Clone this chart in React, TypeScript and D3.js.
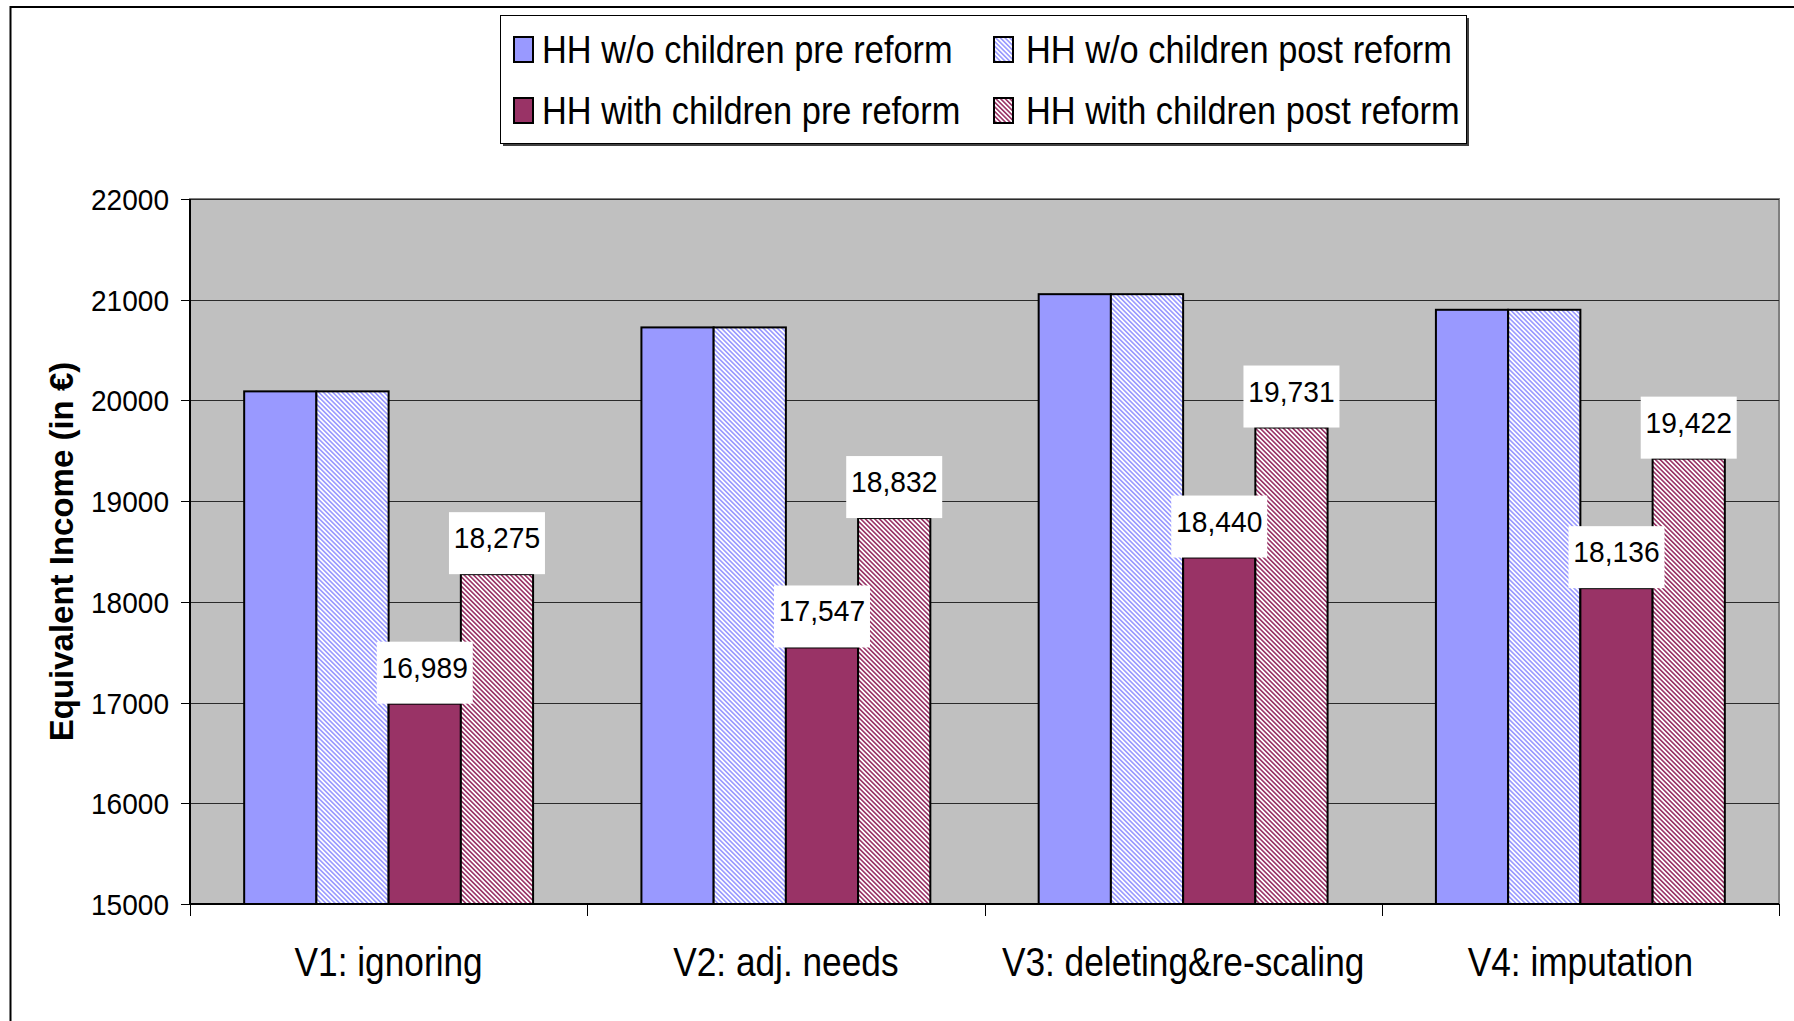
import React from "react";
import * as d3 from "d3";

const categories = ["V1: ignoring", "V2: adj. needs", "V3: deleting&re-scaling", "V4: imputation"];
const seriesNames = [
  "HH w/o children pre reform",
  "HH w/o children post reform",
  "HH with children pre reform",
  "HH with children post reform",
];
const woPre = [20090, 20725, 21055, 20900];
const woPost = [20090, 20725, 21055, 20900];
const withPre = [16989, 17547, 18440, 18136];
const withPost = [18275, 18832, 19731, 19422];
const yTicks = [15000, 16000, 17000, 18000, 19000, 20000, 21000, 22000];

const FONT = "Arial, 'Liberation Sans', sans-serif";
const BLUE = "#9999FF";
const PLUM = "#993366";

type SText = {
  x: number;
  y: number;
  size: number;
  sx: number;
  anchor?: "start" | "middle" | "end";
  bold?: boolean;
  children: React.ReactNode;
};
function SText({ x, y, size, sx, anchor = "start", bold = false, children }: SText) {
  return (
    <text
      transform={`translate(${x},${y}) scale(${sx},1)`}
      fontFamily={FONT}
      fontSize={size}
      fontWeight={bold ? "bold" : "normal"}
      textAnchor={anchor}
      fill="#000"
    >
      {children}
    </text>
  );
}

export default function App() {
  const W = 1794;
  const H = 1021;
  const plot = { l: 190, r: 1779, t: 199, b: 904 };

  const series = [
    { name: seriesNames[0], values: woPre, fill: BLUE, hatch: false, label: false },
    { name: seriesNames[1], values: woPost, fill: BLUE, hatch: true, label: false },
    { name: seriesNames[2], values: withPre, fill: PLUM, hatch: false, label: true },
    { name: seriesNames[3], values: withPost, fill: PLUM, hatch: true, label: true },
  ];

  const x0 = d3.scaleBand<string>().domain(categories).range([plot.l, plot.r]).paddingInner(0).paddingOuter(0);
  const x1 = d3
    .scaleBand<string>()
    .domain(seriesNames)
    .range([0, x0.bandwidth()])
    .paddingInner(0)
    .paddingOuter(0.75);
  const y = d3.scaleLinear().domain([15000, 22000]).range([plot.b, plot.t]);
  const fmt = d3.format(",");

  const fillFor = (s: (typeof series)[number]) =>
    s.hatch ? `url(#hatch-${s.fill === BLUE ? "blue" : "plum"})` : s.fill;

  const boundaries = [...categories.map((c) => x0(c) as number), plot.r];

  const legendCols = [514, 994];
  const legendTextX = [542, 1026];
  const legendRows = [63, 124];

  return (
    <svg
      width={W}
      height={H}
      viewBox={`0 0 ${W} ${H}`}
      style={{ position: "absolute", left: 0, top: 0, display: "block", background: "#fff" }}
    >
      <defs>
        <pattern id="hatch-blue" patternUnits="userSpaceOnUse" width={3.3} height={3.3} patternTransform="rotate(-45)">
          <rect width={3.3} height={3.3} fill="#fff" />
          <rect width={1.6} height={3.3} fill={BLUE} />
        </pattern>
        <pattern id="hatch-plum" patternUnits="userSpaceOnUse" width={3.3} height={3.3} patternTransform="rotate(-45)">
          <rect width={3.3} height={3.3} fill="#fff" />
          <rect width={1.6} height={3.3} fill={PLUM} />
        </pattern>
      </defs>

      {/* chart area border */}
      <path d={`M10.5,${H + 5} V7 H${W + 5}`} fill="none" stroke="#000" strokeWidth={2} />

      {/* plot area */}
      <rect x={plot.l} y={plot.t} width={plot.r - plot.l} height={plot.b - plot.t} fill="#C0C0C0" stroke="#808080" strokeWidth={2} />

      {/* gridlines */}
      {yTicks
        .filter((t) => t > 15000)
        .map((t) => (
          <line key={`g${t}`} x1={plot.l} x2={plot.r} y1={Math.round(y(t)) + 0.5} y2={Math.round(y(t)) + 0.5} stroke="#2a2a2a" strokeWidth={1} />
        ))}

      {/* bars */}
      {series.map((s) =>
        categories.map((c, i) => {
          const bx = (x0(c) as number) + (x1(s.name) as number);
          const by = y(s.values[i]);
          return (
            <rect
              key={`${s.name}-${c}`}
              x={bx}
              y={by}
              width={x1.bandwidth()}
              height={plot.b - by}
              fill={fillFor(s)}
              stroke="#000"
              strokeWidth={2}
            />
          );
        })
      )}

      {/* data labels */}
      {series
        .filter((s) => s.label)
        .map((s) =>
          categories.map((c, i) => {
            const cx = (x0(c) as number) + (x1(s.name) as number) + x1.bandwidth() / 2;
            const top = y(s.values[i]);
            return (
              <g key={`lab-${s.name}-${c}`}>
                <rect x={cx - 48} y={top - 62} width={96} height={62} fill="#fff" />
                <SText x={cx} y={top - 26} size={30} sx={0.94} anchor="middle">
                  {fmt(s.values[i])}
                </SText>
              </g>
            );
          })
        )}

      {/* y axis */}
      <line x1={plot.l} x2={plot.l} y1={plot.t} y2={plot.b} stroke="#000" strokeWidth={2} />
      {yTicks.map((t) => (
        <g key={`yt${t}`}>
          <line x1={181} x2={plot.l} y1={Math.round(y(t)) + 0.5} y2={Math.round(y(t)) + 0.5} stroke="#000" strokeWidth={1} />
          <SText x={169} y={y(t) + 11} size={30} sx={0.935} anchor="end">
            {t}
          </SText>
        </g>
      ))}

      {/* x axis */}
      <line x1={plot.l} x2={plot.r} y1={plot.b} y2={plot.b} stroke="#000" strokeWidth={2} />
      {boundaries.map((bx, i) => (
        <line key={`xt${i}`} x1={Math.round(bx) + 0.5} x2={Math.round(bx) + 0.5} y1={plot.b} y2={plot.b + 12} stroke="#000" strokeWidth={1} />
      ))}
      {categories.map((c) => (
        <SText key={`xl${c}`} x={(x0(c) as number) + x0.bandwidth() / 2} y={976} size={41} sx={0.86} anchor="middle">
          {c}
        </SText>
      ))}

      {/* y title */}
      <text
        transform={`translate(73,${(plot.t + plot.b) / 2}) rotate(-90)`}
        fontFamily={FONT}
        fontSize={33}
        fontWeight="bold"
        textAnchor="middle"
        fill="#000"
      >
        Equivalent Income (in €)
      </text>

      {/* legend */}
      <rect x={503} y={18} width={966} height={128} fill="#404040" />
      <rect x={500.5} y={15.5} width={966} height={128} fill="#fff" stroke="#000" strokeWidth={1} />
      {series.map((s, i) => {
        const col = i % 2;
        const row = Math.floor(i / 2);
        const base = legendRows[row];
        return (
          <g key={`leg-${s.name}`}>
            <rect x={legendCols[col]} y={base - 26} width={19} height={25} fill={fillFor(s)} stroke="#000" strokeWidth={2} />
            <SText x={legendTextX[col]} y={base} size={38} sx={0.905}>
              {s.name}
            </SText>
          </g>
        );
      })}
    </svg>
  );
}
